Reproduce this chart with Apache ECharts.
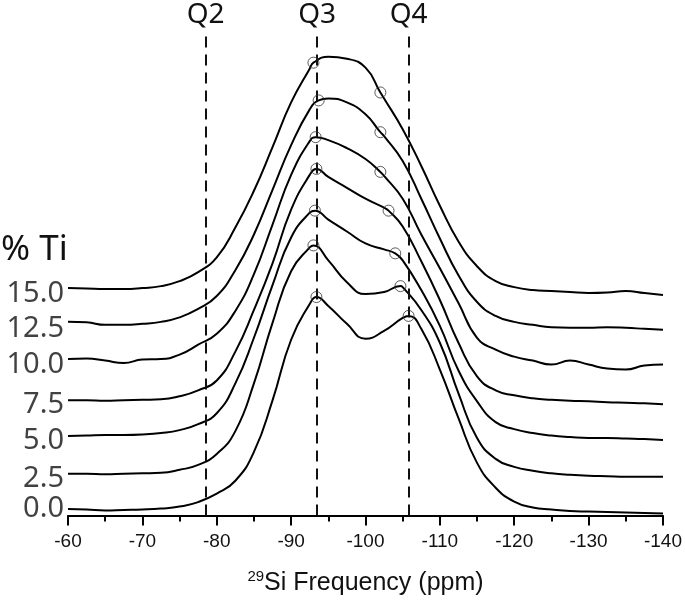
<!DOCTYPE html>
<html>
<head>
<meta charset="utf-8">
<script src="https://cdn.jsdelivr.net/npm/echarts@6/dist/echarts.min.js"></script>
<style>
html,body{margin:0;padding:0;background:#fff;}
#chart{width:685px;height:601px;}
</style>
</head>
<body>
<div id="chart"></div>
<script>
// ---- data ----
const xs = [-60,-62.5,-65,-67.5,-70,-72.5,-75,-77.5,-80,-82.5,-85,-87.5,-90,-92.5,-95,-97.5,-100,-102.5,-105,-107.5,-110,-112.5,-115,-117.5,-120,-122.5,-125,-127.5,-130,-132.5,-135,-137.5,-140];
const tiLabels = ['0.0','2.5','5.0','7.5','10.0','12.5','15.0'];
const ti00 = [1.3,1.2,1.0,1.1,1.2,1.4,1.8,2.7,4.4,7.0,12.8,23.2,35.4,42.6,42.2,38.6,35.6,37.2,39.8,37.6,29.4,19.6,10.6,5.6,2.8,1.6,1.2,0.9,0.8,0.7,0.6,0.5,0.4];
const ti25 = [8.4,8.4,8.3,8.4,8.5,8.6,9.2,10.2,12.4,17.0,26.6,38.8,49.2,54.0,51.4,47.0,44.6,45.0,46.0,41.4,34.8,24.6,15.6,11.4,9.8,9.0,8.5,8.2,8.0,7.9,7.8,7.8,7.8];
const ti50 = [16.0,16.1,16.2,16.2,16.3,16.6,17.2,18.4,20.6,26.6,35.8,46.4,56.0,61.0,59.6,57.2,54.8,53.6,51.4,45.4,38.2,29.2,23.0,18.8,17.4,16.6,16.1,15.8,15.6,15.6,15.5,15.4,15.2];
const ti75 = [23.2,23.2,23.1,23.2,23.3,23.4,24.0,25.2,27.2,33.0,41.4,50.8,61.6,68.6,68.2,66.0,63.8,62.0,58.2,51.2,43.4,34.8,28.0,25.2,24.2,23.6,23.3,23.1,23.0,22.8,22.7,22.6,22.4];
const ti100 = [31.5,31.6,31.2,30.7,31.4,31.5,32.4,34.4,36.6,41.2,48.6,58.6,68.6,75.4,75.6,74.0,71.8,68.4,63.8,56.6,49.8,42.8,35.8,33.4,32.0,31.2,30.4,31.2,30.4,29.6,29.4,30.2,30.4];
const ti125 = [39.0,38.9,38.4,38.4,38.6,39.0,39.9,41.6,44.2,49.4,56.6,65.6,74.6,81.8,84.0,83.2,80.8,76.4,71.4,63.8,55.8,48.4,43.0,40.2,39.0,38.4,37.9,37.8,37.8,37.9,37.8,37.6,37.4];
const ti150 = [45.8,45.7,45.6,45.6,45.8,46.2,47.2,49.0,52.0,58.0,65.4,74.2,83.2,90.0,92.4,92.0,90.2,84.0,77.8,70.4,62.4,55.2,50.2,47.2,46.0,45.4,45.2,45.0,44.8,44.9,45.2,44.8,44.4];
// marked points (open circles) lying on each curve
const q3MarkX = [-93.4,-93.0,-93.2,-93.4,-93.3,-93.7,-93.0];
const q3MarkY = [44.0,54.4,61.4,69.8,76.2,83.6,91.2];
const q4MarkX = [-105.8,-104.7,-104.0,-103.1,-102.0,-102.0,-102.0];
const q4MarkY = [40.2,46.2,52.8,61.4,69.2,77.2,85.2];
const qPos = [-78.5,-93.5,-105.8];
const qNames = ['Q2','Q3','Q4'];
const xTicks = [-60,-70,-80,-90,-100,-110,-120,-130,-140];

// ---- chart ----
const curves = [ti00, ti25, ti50, ti75, ti100, ti125, ti150];
const labelDy = [0, 5, 5, 4, 5.5, 7, 6];
const chart = echarts.init(document.getElementById('chart'));

const series = curves.map((ys, k) => {
  const pts = xs.map((x, i) => [x, ys[i]]);
  pts.push([q3MarkX[k], q3MarkY[k]]);
  pts.push([q4MarkX[k], q4MarkY[k]]);
  pts.sort((a, b) => b[0] - a[0]);
  return {
    type: 'line', name: tiLabels[k], data: pts, smooth: 0.5,
    symbol: 'none', showSymbol: false, silent: true,
    lineStyle: { color: '#000', width: 2 }, z: 3
  };
});

series[0].markLine = {
  silent: true, symbol: 'none', animation: false,
  lineStyle: { color: '#111', width: 2, type: [11, 7] },
  label: { show: true, position: 'end', distance: 3, fontSize: 28, fontFamily: 'Noto Sans', color: '#111', formatter: p => p.name },
  data: qPos.map((q, i) => [
    { name: qNames[i], coord: [q, 0] },
    { coord: [q, 97.4] }
  ])
};

// row labels at the start of each curve
series.push({
  type: 'scatter', symbolSize: 0, silent: true, z: 4,
  data: curves.map((ys, k) => ({
    value: [xs[0], ys[0]],
    label: {
      show: true, position: 'left', distance: 4, offset: [0, labelDy[k]],
      formatter: tiLabels[k], fontSize: 29, fontFamily: 'Noto Sans', color: '#111'
    }
  }))
});

const circles = [];
for (let k = 0; k < curves.length; k++) {
  circles.push([q3MarkX[k], q3MarkY[k]]);
  circles.push([q4MarkX[k], q4MarkY[k]]);
}
series.push({
  type: 'scatter', data: circles, symbol: 'circle', symbolSize: 11, z: 5, silent: true,
  itemStyle: { color: 'rgba(0,0,0,0)', borderColor: '#333', borderWidth: 1 }
});

chart.setOption({
  animation: false,
  backgroundColor: '#fff',
  grid: { left: 68, right: 21, top: 19, bottom: 82 },
  xAxis: {
    type: 'value', min: xTicks[xTicks.length - 1], max: xTicks[0], interval: 10, inverse: true,
    axisLine: { show: true, onZero: false, lineStyle: { color: '#000', width: 2 } },
    axisTick: { show: true, length: 10, lineStyle: { color: '#000', width: 2 } },
    minorTick: { show: true, splitNumber: 2, length: 6, lineStyle: { color: '#000', width: 2 } },
    splitLine: { show: false },
    axisLabel: { color: '#111', fontSize: 19, fontFamily: 'Liberation Sans', margin: 17 },
    name: '{sup|29}{main|Si Frequency (ppm)}',
    nameLocation: 'middle', nameGap: 54,
    nameTextStyle: {
      rich: {
        sup: { fontSize: 15, fontFamily: 'Liberation Sans', color: '#111', verticalAlign: 'top', lineHeight: 10 },
        main: { fontSize: 25, fontFamily: 'Liberation Sans', color: '#111', lineHeight: 28 }
      }
    }
  },
  yAxis: { type: 'value', min: 0, max: 100, show: false },
  graphic: [{
    type: 'text', x: 1, y: 250,
    style: { text: '% Ti', fontSize: 35, fontFamily: 'Noto Sans', fill: '#111', verticalAlign: 'middle' }
  }],
  series: series
});
</script>
</body>
</html>
